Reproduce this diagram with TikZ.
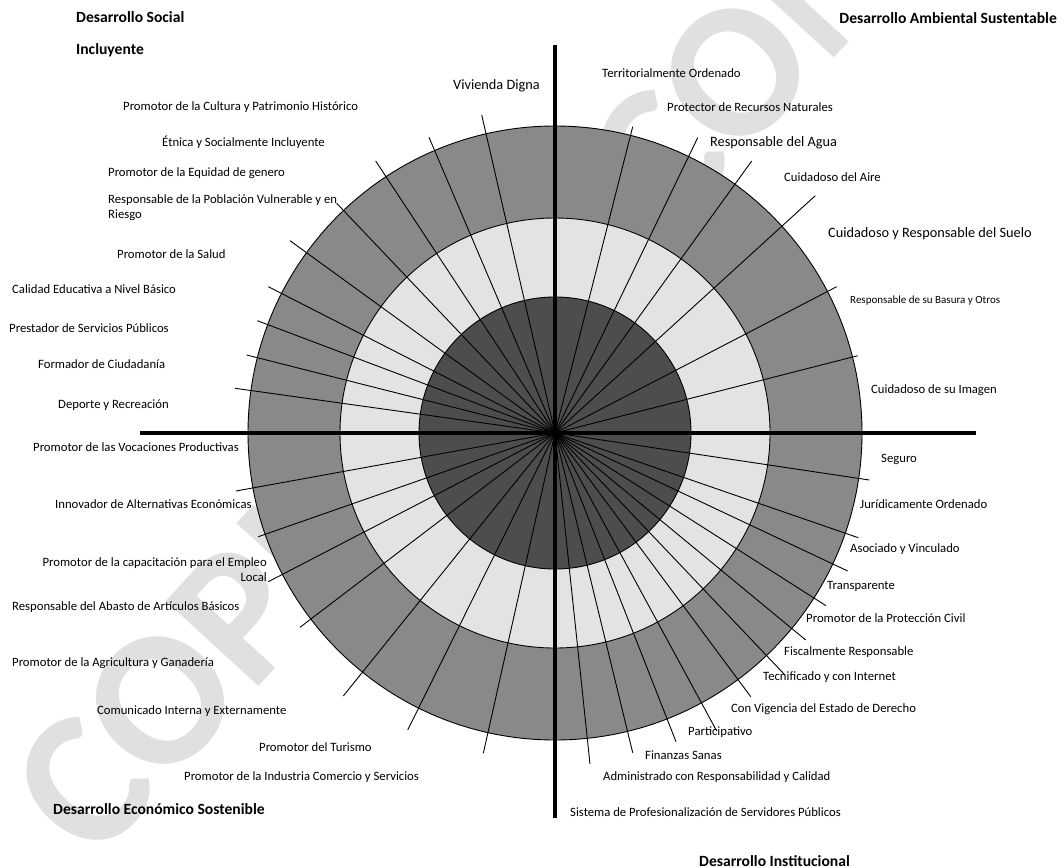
\documentclass[tikz,border=0pt]{standalone}
\usepackage{fontspec}
\setmainfont{Carlito}
\definecolor{outerg}{RGB}{137,137,137}
\definecolor{midg}{RGB}{227,227,227}
\definecolor{innerg}{RGB}{77,77,77}
\definecolor{wm}{RGB}{224,224,224}
\begin{document}
\begin{tikzpicture}[x=1pt,y=-1pt,
  lbl/.style={anchor=west,inner sep=0pt,font=\fontsize{12.7}{15}\selectfont},
  lblbig/.style={lbl,font=\fontsize{14.3}{17}\selectfont},
  lblsmall/.style={lbl,font=\fontsize{11}{13}\selectfont},
  ttl/.style={anchor=west,inner sep=0pt,font=\bfseries\fontsize{15.6}{18}\selectfont},
  spoke/.style={line width=0.9pt},
  axisline/.style={line width=3.6pt},
  ring/.style={draw=black,line width=0.9pt}]
\useasboundingbox (0,0) rectangle (1064,867);
\clip (0,0) rectangle (1064,867);
% watermark
\node[anchor=base west,inner sep=0pt,rotate=47.5,text=wm,font=\bfseries\fontsize{194}{196}\selectfont] (wmark) at (94,866) {COPIA NO CONTROLADA};
% rings
\coordinate (c) at (555,433);
\fill[outerg,ring] (c) circle[radius=307pt];
\fill[midg,ring] (c) circle[radius=215pt];
\fill[innerg,ring] (c) circle[radius=136pt];
% spoke ends
\coordinate (a1) at (481.7,115);
\coordinate (a2) at (429,137.3);
\coordinate (a3) at (375.7,161);
\coordinate (a4) at (336.7,203.3);
\coordinate (a5) at (290,240.7);
\coordinate (a6) at (268.3,286.7);
\coordinate (a7) at (257.3,320.7);
\coordinate (a8) at (246.7,355);
\coordinate (a9) at (235,388.3);
\coordinate (b1) at (632.7,126.7);
\coordinate (b2) at (697.7,137.7);
\coordinate (b3) at (751.7,161);
\coordinate (b4) at (815.3,195.7);
\coordinate (b5) at (836.7,286.7);
\coordinate (b6) at (857.7,355.7);
\coordinate (d1) at (869.3,480);
\coordinate (d2) at (858.3,537.7);
\coordinate (d3) at (847.7,571);
\coordinate (d4) at (826,605.7);
\coordinate (d5) at (805.7,640);
\coordinate (d6) at (785,675);
\coordinate (d7) at (750.7,696.7);
\coordinate (d8) at (716.7,731);
\coordinate (d9) at (676,741.7);
\coordinate (d10) at (632.7,752.7);
\coordinate (d11) at (590,764);
\coordinate (e1) at (236,491);
\coordinate (e2) at (258.3,536.7);
\coordinate (e3) at (268.3,581.7);
\coordinate (e4) at (300,627.3);
\coordinate (e5) at (343.3,696);
\coordinate (e6) at (407.7,730);
\coordinate (e7) at (483.3,753.3);
\foreach \n in {a1,a2,a3,a4,a5,a6,a7,a8,a9,b1,b2,b3,b4,b5,b6,d1,d2,d3,d4,d5,d6,d7,d8,d9,d10,d11,e1,e2,e3,e4,e5,e6,e7}
  {\draw[spoke] (c) -- (\n);}
% axes
\coordinate (vtop) at (555,45);
\coordinate (vbot) at (555,818);
\coordinate (hl) at (140,433);
\coordinate (hr) at (976,433);
\draw[axisline] (vtop) -- (vbot);
\draw[axisline] (hl) -- (hr);
% titles
\node[ttl] (t1) at (76,17) {Desarrollo Social};
\node[ttl] (t1b) at (76,50) {Incluyente};
\node[ttl,anchor=east] (t2) at (1057,18) {Desarrollo Ambiental Sustentable};
\node[ttl] (t3) at (53,809) {Desarrollo Económico Sostenible};
\node[ttl] (t4) at (699,861) {Desarrollo Institucional};
% upper left
\node[lblbig] (s1) at (453,86) {Vivienda Digna};
\node[lbl] (s2) at (123,107) {Promotor de la Cultura y Patrimonio Histórico};
\node[lbl] (s3) at (162,142) {Étnica y Socialmente Incluyente};
\node[lbl] (s4) at (108,173) {Promotor de la Equidad de genero};
\node[lbl,align=left] (s5) at (108,207.5) {Responsable de la Población Vulnerable y en\\Riesgo};
\node[lbl] (s6) at (117,254) {Promotor de la Salud};
\node[lbl] (s7) at (12,289) {Calidad Educativa a Nivel Básico};
\node[lbl] (s8) at (9,328) {Prestador de Servicios Públicos};
\node[lbl] (s9) at (38,364) {Formador de Ciudadanía};
\node[lbl] (s10) at (58,405) {Deporte y Recreación};
% lower left
\node[lbl] (e1l) at (33,447) {Promotor de las Vocaciones Productivas};
\node[lbl] (e2l) at (55,504) {Innovador de Alternativas Económicas};
\node[lbl,anchor=east,align=right] (e3l) at (267,570) {Promotor de la capacitación para el Empleo\\Local};
\node[lbl] (e4l) at (12,607) {Responsable del Abasto de Artículos Básicos};
\node[lbl] (e5l) at (12,663) {Promotor de la Agricultura y Ganadería};
\node[lbl] (e6l) at (97,711) {Comunicado Interna y Externamente};
\node[lbl] (e7l) at (259,747) {Promotor del Turismo};
\node[lbl] (e8l) at (184,777) {Promotor de la Industria Comercio y Servicios};
% upper right
\node[lbl] (b1l) at (602,73) {Territorialmente Ordenado};
\node[lbl] (b2l) at (667,107) {Protector de Recursos Naturales};
\node[lblbig] (b3l) at (710,143) {Responsable del Agua};
\node[lbl] (b4l) at (784,177) {Cuidadoso del Aire};
\node[lblbig] (b5l) at (828,234) {Cuidadoso y Responsable del Suelo};
\node[lblsmall] (b6l) at (850,301) {Responsable de su Basura y Otros};
\node[lbl] (b7l) at (871,390) {Cuidadoso de su Imagen};
% lower right
\node[lbl] (d1l) at (881,459) {Seguro};
\node[lbl] (d2l) at (860,504) {Jurídicamente Ordenado};
\node[lbl] (d3l) at (850,549) {Asociado y Vinculado};
\node[lbl] (d4l) at (827,586) {Transparente};
\node[lbl] (d5l) at (806,618) {Promotor de la Protección Civil};
\node[lbl] (d6l) at (784,652) {Fiscalmente Responsable};
\node[lbl] (d7l) at (763,677) {Tecnificado y con Internet};
\node[lbl] (d8l) at (731,709) {Con Vigencia del Estado de Derecho};
\node[lbl] (d9l) at (688,732) {Participativo};
\node[lbl] (d10l) at (645,755) {Finanzas Sanas};
\node[lbl] (d11l) at (603,777) {Administrado con Responsabilidad y Calidad};
\node[lbl] (d12l) at (570,812) {Sistema de Profesionalización de Servidores Públicos};
\end{tikzpicture}
\end{document}
